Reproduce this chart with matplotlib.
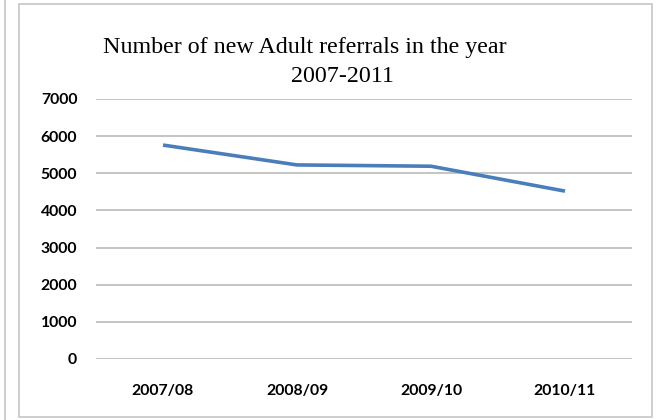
import matplotlib.pyplot as plt
from matplotlib.patches import Rectangle
from matplotlib.lines import Line2D

years = ['2007/08', '2008/09', '2009/10', '2010/11']
referrals = [5760, 5225, 5190, 4520]
y_ticks = [0, 1000, 2000, 3000, 4000, 5000, 6000, 7000]

W, H = 657, 420
fig = plt.figure(figsize=(W / 100, H / 100), dpi=100)

# outer chart frame and the stray edge on the far left
fig.add_artist(Rectangle((19 / W, 1 - 417 / H), 633 / W, 413 / H, transform=fig.transFigure,
                         fill=False, edgecolor='#c6c6c6', linewidth=1.2))
fig.add_artist(Line2D([5 / W, 5 / W], [0, 1], transform=fig.transFigure,
                      color='#c6c6c6', linewidth=1.2))

ax = fig.add_axes([96 / W, 61 / H, 536 / W, 260 / H])
x = range(len(years))
ax.plot(x, referrals, color='#4a7ebb', linewidth=2.6, solid_capstyle='butt')
ax.set_xlim(-0.5, len(years) - 0.5)
ax.set_ylim(0, 7000)
ax.set_yticks(y_ticks)
ax.set_xticks(list(x))
ax.set_xticklabels(years)
ax.grid(axis='y', color='#bfbfbf', linewidth=1.3)
ax.set_axisbelow(True)
for s in ax.spines.values():
    s.set_visible(False)
ax.tick_params(length=0)
ax.tick_params(axis='y', pad=13.5)
ax.tick_params(axis='x', pad=18)
for lab in ax.get_xticklabels() + ax.get_yticklabels():
    lab.set_fontfamily('Lato')
    lab.set_fontweight('bold')
    lab.set_fontsize(11.3)

fig.text(305 / W, 1 - 48 / H, 'Number of new Adult referrals in the year',
         ha='center', va='center', family='Liberation Serif', fontsize=17.3)
fig.text(342 / W, 1 - 76 / H, '2007-2011',
         ha='center', va='center', family='Liberation Serif', fontsize=17.3)

fig.savefig('out.png', dpi=100)
